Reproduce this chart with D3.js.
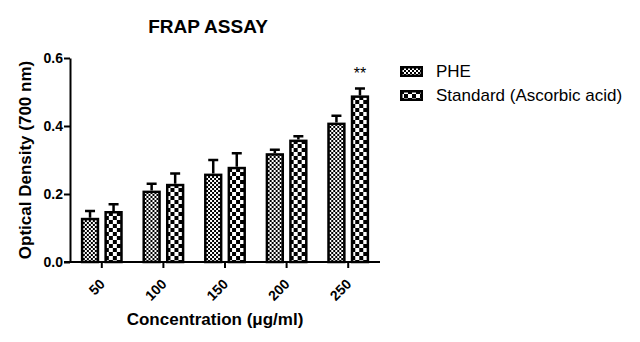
<!DOCTYPE html>
<html><head><meta charset="utf-8">
<script src="https://cdn.jsdelivr.net/npm/d3@7"></script>
<style>body{margin:0;background:#fff}svg{display:block}text{font-family:"Liberation Sans",Arial,sans-serif}</style>
</head><body>
<script>
const categories = ["50","100","150","200","250"];
const seriesNames = ["PHE","Standard (Ascorbic acid)"];
const pheValues = [0.13,0.21,0.26,0.32,0.41];
const pheErrors = [0.02,0.02,0.04,0.01,0.02];
const stdValues = [0.15,0.23,0.28,0.36,0.49];
const stdErrors = [0.02,0.03,0.04,0.01,0.02];
const yTicks = [0.0,0.2,0.4,0.6];
const annotations = [{cat:"250", series:1, text:"**"}];

const W=640,H=342;
const svg=d3.select("body").append("svg").attr("width",W).attr("height",H);
const defs=svg.append("defs");
const p1=defs.append("pattern").attr("id","pat0").attr("patternUnits","userSpaceOnUse").attr("width",4).attr("height",4);
p1.append("rect").attr("width",4).attr("height",4).attr("fill","#fff");
p1.append("rect").attr("width",2).attr("height",2).attr("fill","#000");
p1.append("rect").attr("x",2).attr("y",2).attr("width",2).attr("height",2).attr("fill","#000");
const p2=defs.append("pattern").attr("id","pat1").attr("patternUnits","userSpaceOnUse").attr("width",8).attr("height",8);
p2.append("rect").attr("width",8).attr("height",8).attr("fill","#fff");
p2.append("rect").attr("width",4).attr("height",4).attr("fill","#000");
p2.append("rect").attr("x",4).attr("y",4).attr("width",4).attr("height",4).attr("fill","#000");

const x0=d3.scaleBand().domain(categories).range([71,379]).paddingInner(0.32).paddingOuter(0.16);
const x1=d3.scaleBand().domain([0,1]).range([0,x0.bandwidth()]).paddingInner(0.22);
const y=d3.scaleLinear().domain([0,0.6]).range([262,58]);

const data=categories.map((c,i)=>({cat:c,vals:[
 {s:0,v:pheValues[i],e:pheErrors[i]},{s:1,v:stdValues[i],e:stdErrors[i]}]}));

const g=svg.append("g");
const groups=g.selectAll("g.grp").data(data).join("g").attr("transform",d=>`translate(${x0(d.cat)},0)`);
groups.selectAll("path.err").data(d=>d.vals).join("path")
 .attr("d",d=>{const cx=x1(d.s)+x1.bandwidth()/2;return `M${cx},${y(d.v)}V${y(d.v+d.e)}M${cx-5},${y(d.v+d.e)}H${cx+5}`;})
 .attr("stroke","#000").attr("stroke-width",2.5).attr("fill","none");
groups.selectAll("rect.bar").data(d=>d.vals).join("rect")
 .attr("x",d=>x1(d.s)+1.25).attr("width",x1.bandwidth()-2.5)
 .attr("y",d=>y(d.v)+1.25).attr("height",d=>y(0)-y(d.v)-1.25)
 .attr("fill",d=>`url(#pat${d.s})`).attr("stroke","#000").attr("stroke-width",2.5);

const yAxis=d3.axisLeft(y).tickValues(yTicks).tickFormat(d3.format(".1f")).tickSize(6).tickPadding(1).tickSizeOuter(0);
const ya=svg.append("g").attr("transform","translate(70,0)").call(yAxis);
ya.select(".domain").attr("stroke-width",2);
ya.selectAll(".tick line").attr("stroke-width",2);
ya.selectAll("text").attr("font-size",14).attr("font-weight","bold").attr("fill","#000");

const xAxis=d3.axisBottom(x0).tickSize(6).tickSizeOuter(0);
const xa=svg.append("g").attr("transform","translate(0,262)").call(xAxis);
xa.select(".domain").attr("stroke-width",2).attr("d","M64,0H380");
xa.selectAll(".tick line").attr("stroke-width",2);
xa.selectAll("text").attr("font-size",14).attr("font-weight","bold").attr("fill","#000")
 .attr("text-anchor","end").attr("dy",0).attr("y",0).attr("transform","translate(4,23) rotate(-45)");

annotations.forEach(a=>{
 const i=categories.indexOf(a.cat);
 const vv=a.series===0?pheValues[i]+pheErrors[i]:stdValues[i]+stdErrors[i];
 svg.append("text").attr("x",x0(a.cat)+x1(a.series)+x1.bandwidth()/2).attr("y",y(vv)-10)
  .attr("text-anchor","middle").attr("font-size",16).text(a.text);
});

svg.append("text").attr("x",208).attr("y",33).attr("text-anchor","middle").attr("font-size",19).attr("font-weight","bold").text("FRAP ASSAY");
svg.append("text").attr("transform","translate(31,160) rotate(-90)").attr("text-anchor","middle").attr("font-size",17).attr("font-weight","bold").text("Optical Density (700 nm)");
svg.append("text").attr("x",215).attr("y",325).attr("text-anchor","middle").attr("font-size",17).attr("font-weight","bold").text("Concentration (\u03bcg/ml)");

const lg=svg.append("g").attr("transform","translate(400,66)");
seriesNames.forEach((n,i)=>{
 lg.append("rect").attr("x",1.25).attr("y",i*24+1.25).attr("width",20.5).attr("height",8.5).attr("fill",`url(#pat${i})`).attr("stroke","#000").attr("stroke-width",2.5);
 lg.append("text").attr("x",36).attr("y",i*24+11).attr("font-size",17).text(n);
});
</script>
</body></html>
